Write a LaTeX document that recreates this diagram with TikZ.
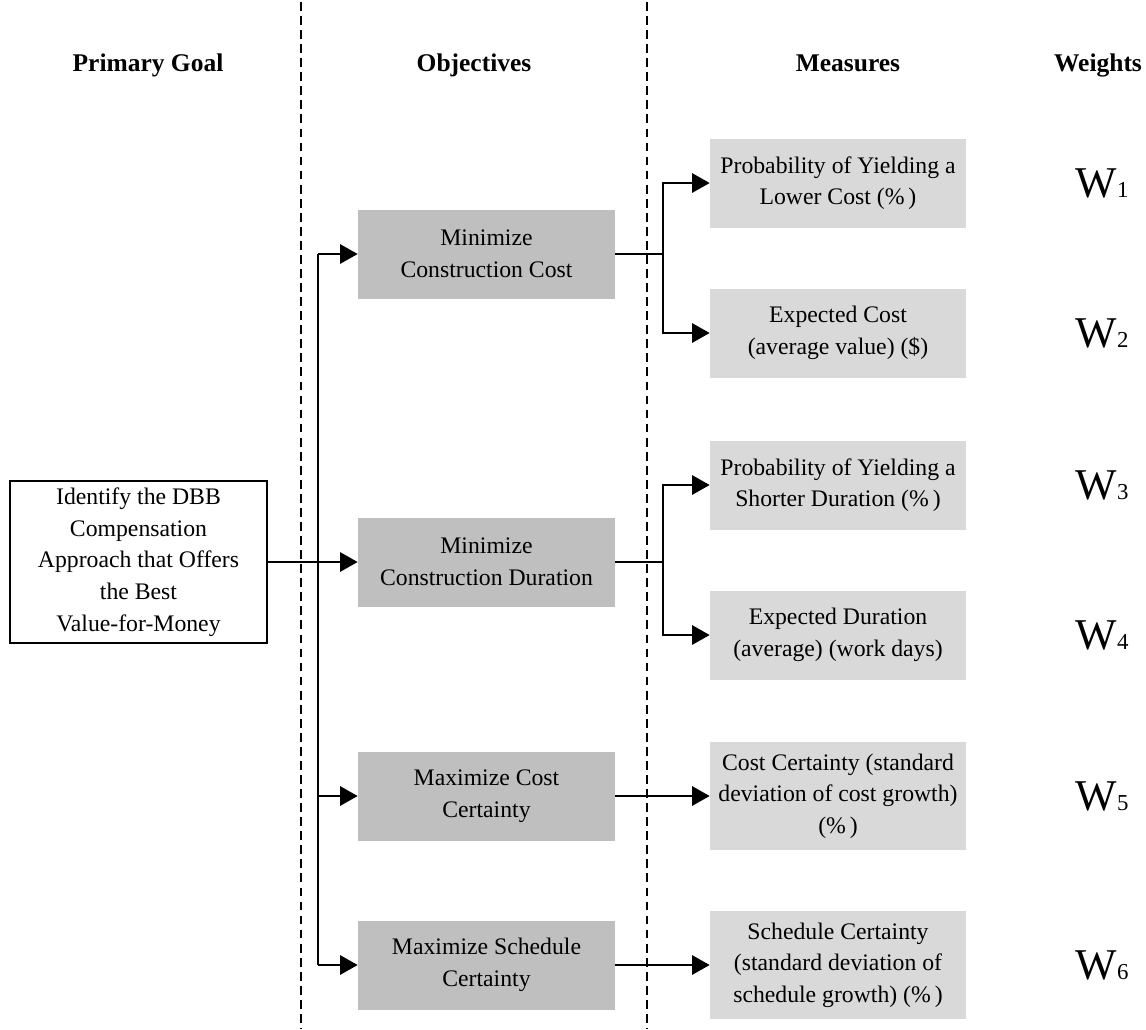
\documentclass[tikz,border=0pt]{standalone}
\usepackage{fontspec}
\setmainfont{Liberation Serif}
\usetikzlibrary{positioning,arrows.meta}

\begin{document}
\begin{tikzpicture}[
        x=0.02cm, y=-0.02cm,
        font=\fontsize{13.5}{18}\selectfont,
        goalbox/.style={draw, line width=0.8pt, align=center, fill=white,
            minimum width=5.14cm, minimum height=3.24cm, inner sep=2pt},
        objbox/.style={fill=black!25, align=center,
            minimum width=5.14cm, minimum height=1.78cm, inner sep=2pt},
        measbox/.style={fill=black!15, align=center,
            minimum width=5.12cm, minimum height=1.78cm, inner sep=2pt},
        tallbox/.style={measbox, minimum height=2.16cm},
        head/.style={font=\fontsize{14.5}{17}\selectfont\bfseries, anchor=base},
        weight/.style={inner sep=0pt},
        sep/.style={dash pattern=on 5pt off 3pt, line width=0.8pt},
        line/.style={line width=1pt},
        arr/.style={-{Triangle[length=10pt, width=11pt]}, line width=1pt},
    ]
        \useasboundingbox (0,0) rectangle (1146,1029);

        % Column separators
        \draw[sep] (301,2) -- (301,1029);
        \draw[sep] (647,2) -- (647,1029);

        % Headers
        \node[head] (hgoal) at (148,71) {Primary Goal};
        \node[head] (hobj) at (474,71) {Objectives};
        \node[head] (hmeas) at (848,71) {Measures};
        \node[head] (hwt) at (1098,71) {Weights};

        % Primary goal
        \node[goalbox] (goal) at (138.5,562) {Identify the DBB\\ Compensation\\ Approach that Offers\\ the Best\\ Value-for-Money};

        % Objectives
        \node[objbox] (obj1) at (486.5,254) {Minimize\\ Construction Cost};
        \node[objbox] (obj2) at (486.5,562) {Minimize\\ Construction Duration};
        \node[objbox] (obj3) at (486.5,796) {Maximize Cost\\ Certainty};
        \node[objbox] (obj4) at (486.5,965) {Maximize Schedule\\ Certainty};

        % Measures
        \node[measbox] (m1) at (838,183) {Probability of Yielding a\\ Lower Cost (\%\,)};
        \node[measbox] (m2) at (838,333) {Expected Cost\\ (average value) (\$)};
        \node[measbox] (m3) at (838,485) {Probability of Yielding a\\ Shorter Duration (\%\,)};
        \node[measbox] (m4) at (838,635) {Expected Duration\\ (average) (work days)};
        \node[tallbox] (m5) at (838,796) {Cost Certainty (standard\\ deviation of cost growth)\\ (\%\,)};
        \node[tallbox] (m6) at (838,965) {Schedule Certainty\\ (standard deviation of\\ schedule growth) (\%\,)};

        % Weights
        \coordinate (wcol) at (1102,0);
        \node[weight] (w1) at (m1 -| wcol) {\fontsize{25}{25}\selectfont W\fontsize{13}{13}\selectfont 1};
        \node[weight] (w2) at (m2 -| wcol) {\fontsize{25}{25}\selectfont W\fontsize{13}{13}\selectfont 2};
        \node[weight] (w3) at (m3 -| wcol) {\fontsize{25}{25}\selectfont W\fontsize{13}{13}\selectfont 3};
        \node[weight] (w4) at (m4 -| wcol) {\fontsize{25}{25}\selectfont W\fontsize{13}{13}\selectfont 4};
        \node[weight] (w5) at (m5 -| wcol) {\fontsize{25}{25}\selectfont W\fontsize{13}{13}\selectfont 5};
        \node[weight] (w6) at (m6 -| wcol) {\fontsize{25}{25}\selectfont W\fontsize{13}{13}\selectfont 6};

        % Goal -> objectives
        \coordinate (trunk) at (318,0);
        \draw[line] (trunk |- obj1.west) -- (trunk |- obj4.west);
        \draw[arr] (goal.east) -- (obj2.west);
        \draw[arr] (trunk |- obj1.west) -- (obj1.west);
        \draw[arr] (trunk |- obj3.west) -- (obj3.west);
        \draw[arr] (trunk |- obj4.west) -- (obj4.west);

        % Objectives -> measures
        \coordinate (split) at (663,0);
        \draw[line] (obj1.east) -- (split |- obj1.east);
        \draw[arr] (split |- obj1.east) |- (m1.west);
        \draw[arr] (split |- obj1.east) |- (m2.west);
        \draw[line] (obj2.east) -- (split |- obj2.east);
        \draw[arr] (split |- obj2.east) |- (m3.west);
        \draw[arr] (split |- obj2.east) |- (m4.west);
        \draw[arr] (obj3.east) -- (m5.west);
        \draw[arr] (obj4.east) -- (m6.west);
    \end{tikzpicture}
\end{document}
